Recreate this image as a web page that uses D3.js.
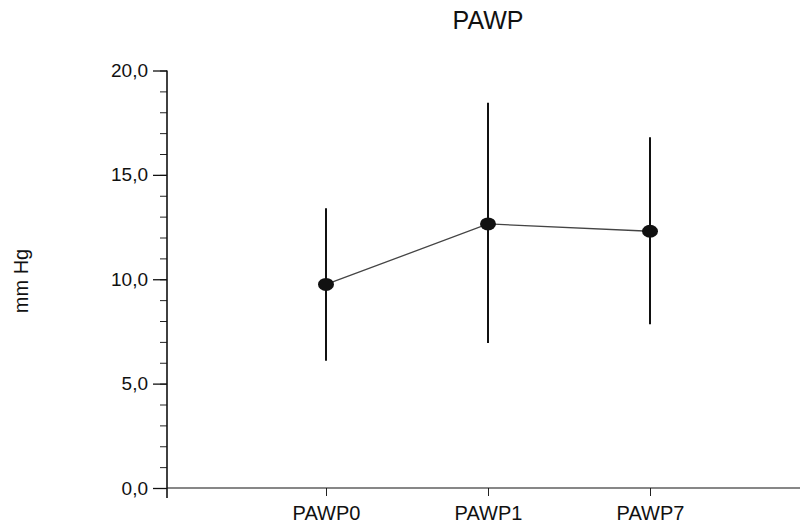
<!DOCTYPE html>
<html>
<head>
<meta charset="utf-8">
<script src="https://cdn.jsdelivr.net/npm/d3@7"></script>
<style>
  body { margin: 0; background: #fff; }
  text { font-family: 'Liberation Sans', Arial, sans-serif; fill: #111; }
</style>
</head>
<body>
<div class="vis"></div>
<script>
const categories = ['PAWP0', 'PAWP1', 'PAWP7'];
const means = [9.75, 12.65, 12.3];
const lows = [6.1, 6.95, 7.85];
const highs = [13.4, 18.45, 16.8];
const yTicks = [0, 5, 10, 15, 20];
const yMinor = d3.range(0, 21, 1);

const width = 802, height = 532;
const axisX = 167, axisY = 488, topY = 70.5, rightX = 800;

const svg = d3.select('.vis').append('svg')
    .attr('width', width)
    .attr('height', height);

// scales
const x = d3.scalePoint()
    .domain(categories)
    .range([164, 812])
    .padding(1);
const y = d3.scaleLinear()
    .domain([0, 20])
    .range([axisY, topY]);

// title
svg.append('text')
    .attr('x', 488)
    .attr('y', 29)
    .attr('text-anchor', 'middle')
    .style('font-size', '25px')
    .text('PAWP');

// y label
svg.append('text')
    .attr('transform', 'translate(28,281) rotate(-90)')
    .attr('text-anchor', 'middle')
    .style('font-size', '20px')
    .text('mm Hg');

// minor ticks on y
svg.append('g')
    .attr('transform', 'translate(' + axisX + ',0)')
    .call(d3.axisLeft(y).tickValues(yMinor).tickSize(7).tickFormat(''))
    .call(g => g.select('.domain').remove())
    .selectAll('line').attr('stroke', '#222');

// y axis
const yAxis = svg.append('g')
    .attr('transform', 'translate(' + axisX + ',0)')
    .call(d3.axisLeft(y).tickValues(yTicks).tickSize(14).tickPadding(5)
        .tickFormat(d => d3.format('.1f')(d).replace('.', ',')));
yAxis.select('.domain').remove();
yAxis.selectAll('line').attr('stroke', '#111').attr('stroke-width', 1.3);
yAxis.selectAll('text').style('font-size', '19px');
yAxis.append('line')
    .attr('x1', 0).attr('x2', 0)
    .attr('y1', topY).attr('y2', axisY + 10)
    .attr('stroke', '#111').attr('stroke-width', 1.6);

// x axis
const xAxis = svg.append('g')
    .attr('transform', 'translate(0,' + axisY + ')')
    .call(d3.axisBottom(x).tickSize(8).tickPadding(10));
xAxis.select('.domain').remove();
xAxis.selectAll('line').attr('stroke', '#222');
xAxis.selectAll('text').style('font-size', '20px');
xAxis.append('line')
    .attr('x1', axisX).attr('x2', rightX)
    .attr('y1', 0).attr('y2', 0)
    .attr('stroke', '#111').attr('stroke-width', 1.2);

// error bars
svg.selectAll('.err')
    .data(categories)
    .enter().append('line')
    .attr('class', 'err')
    .attr('x1', d => x(d)).attr('x2', d => x(d))
    .attr('y1', (d, i) => y(highs[i]))
    .attr('y2', (d, i) => y(lows[i]))
    .attr('stroke', '#111')
    .attr('stroke-width', 2);

// mean line
const line = d3.line()
    .x((d, i) => x(categories[i]))
    .y(d => y(d));
svg.append('path')
    .datum(means)
    .attr('d', line)
    .attr('fill', 'none')
    .attr('stroke', '#444')
    .attr('stroke-width', 1.3);

// markers
svg.selectAll('.dot')
    .data(means)
    .enter().append('ellipse')
    .attr('class', 'dot')
    .attr('cx', (d, i) => x(categories[i]))
    .attr('cy', d => y(d))
    .attr('rx', 8)
    .attr('ry', 6.5)
    .attr('fill', '#111');
</script>
</body>
</html>
